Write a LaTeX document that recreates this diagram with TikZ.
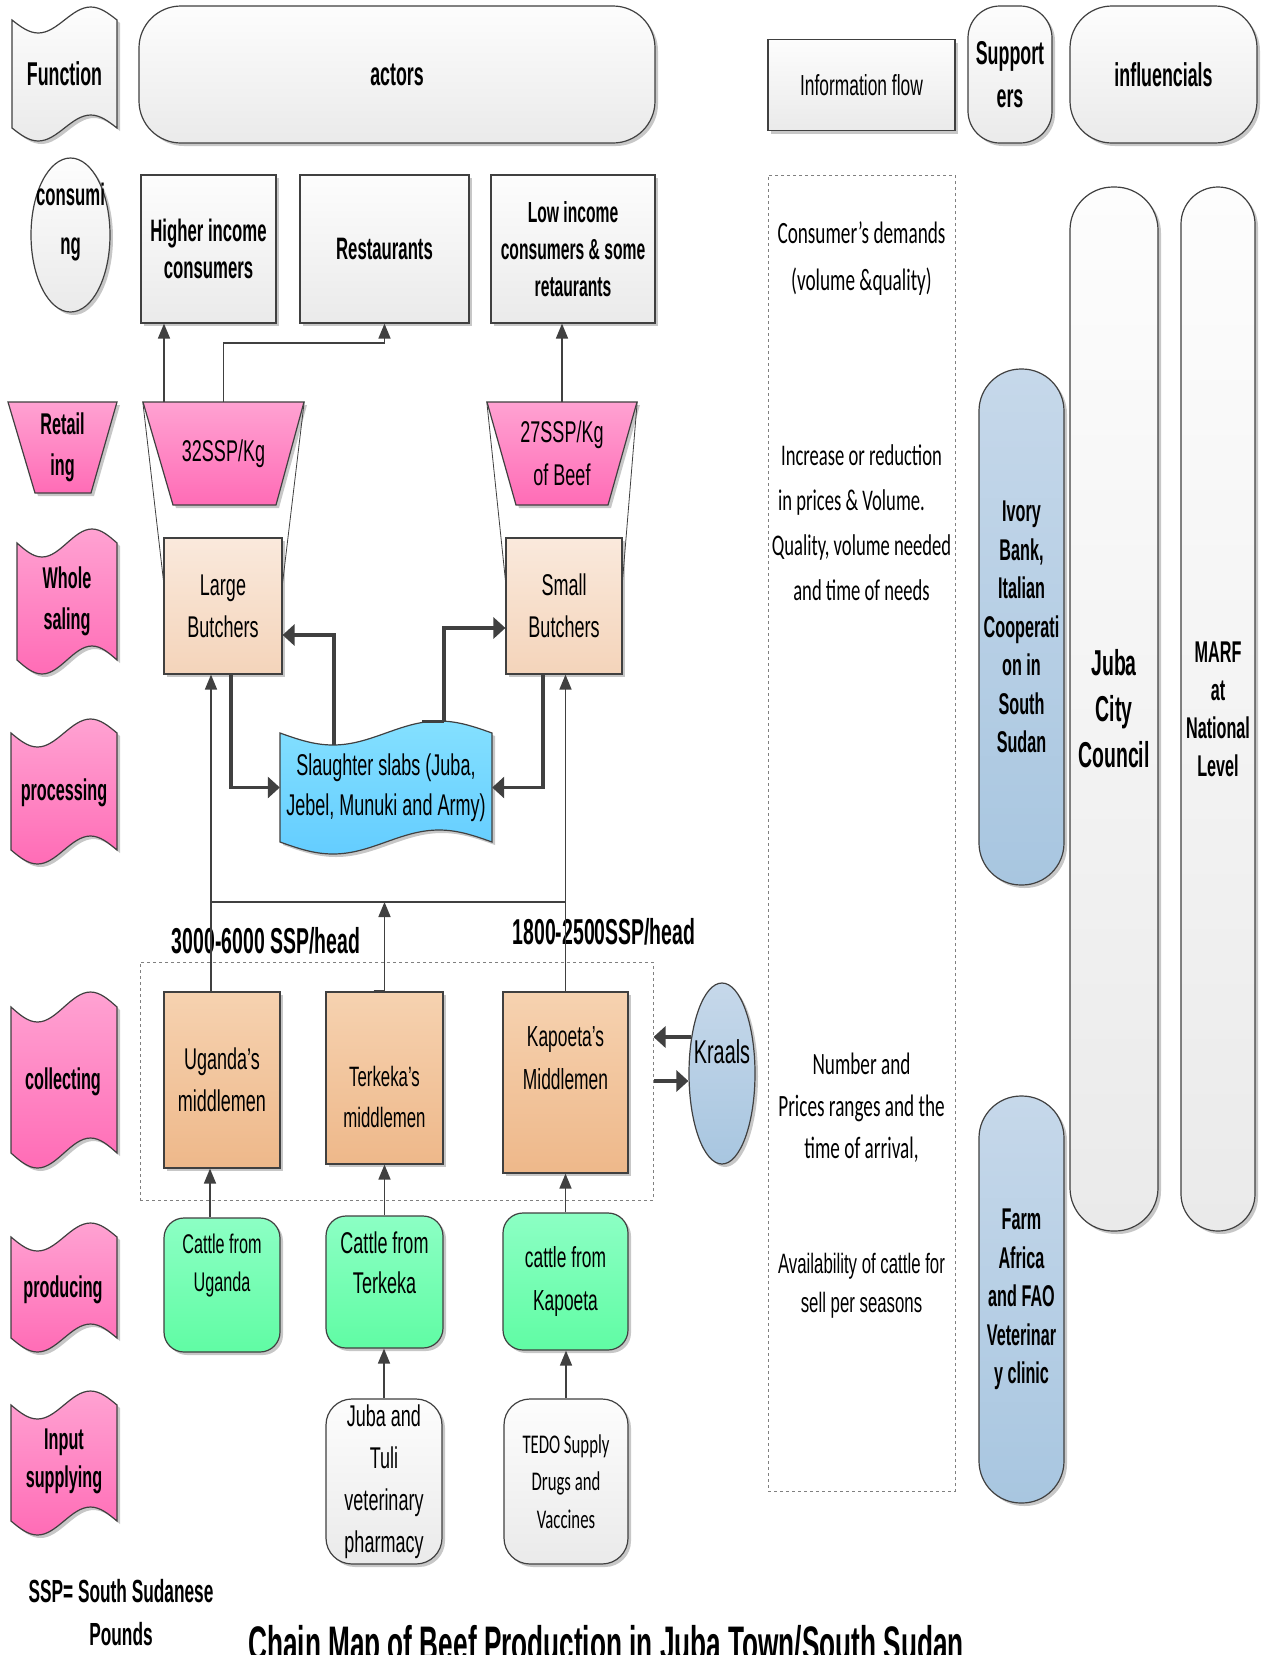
\documentclass[tikz,border=0pt]{standalone}
\usepackage{fontspec}
\setmainfont{Liberation Sans}[FakeStretch=0.6]
\newfontfamily\bfnar{Liberation Sans Bold}[FakeStretch=0.54]
\newfontfamily\calfont{Carlito}[FakeStretch=0.62]
\usepackage{tikz}
\usetikzlibrary{arrows.meta,shapes.geometric,shadows,calc}
\definecolor{pinkTop}{RGB}{255,162,210}
\definecolor{pinkBot}{RGB}{255,108,182}
\definecolor{peachTop}{RGB}{250,233,220}
\definecolor{peachBot}{RGB}{244,212,186}
\definecolor{orangeTop}{RGB}{246,210,176}
\definecolor{orangeBot}{RGB}{238,184,138}
\definecolor{greenTop}{RGB}{140,255,196}
\definecolor{greenBot}{RGB}{96,252,164}
\definecolor{cyanTop}{RGB}{132,224,255}
\definecolor{cyanBot}{RGB}{100,205,255}
\definecolor{steelTop}{RGB}{198,216,234}
\definecolor{steelBot}{RGB}{168,198,224}
\definecolor{greyTop}{RGB}{253,253,253}
\definecolor{greyBot}{RGB}{234,234,234}
\definecolor{lineGrey}{RGB}{64,64,64}
\newcommand{\fsz}[2]{\fontsize{#1}{#2}\selectfont}
% wavy band: x1, y1, x2, y2, amplitude, style
\newcommand{\tapeband}[6]{%
  \draw[#6] (#1,#2) sin ({#1+(#3-#1)/4},{#2+#5}) cos ({(#1+#3)/2},#2)
    sin ({#1+3*(#3-#1)/4},{#2-#5}) cos (#3,#2) -- (#3,#4)
    sin ({#1+3*(#3-#1)/4},{#4-#5}) cos ({(#1+#3)/2},#4)
    sin ({#1+(#3-#1)/4},{#4+#5}) cos (#1,#4) -- cycle;}

\begin{document}
\begin{tikzpicture}[x=1pt,y=-1pt,
    font=\fsz{30}{42},
    every node/.style={align=center, inner sep=0pt},
    sh/.style={drop shadow={shadow xshift=3pt,shadow yshift=-3pt,opacity=0.22,fill=black}},
    outl/.style={draw=lineGrey, line width=1.2pt},
    greybox/.style={outl, sh, top color=greyTop, bottom color=greyBot},
    pinkband/.style={outl, sh, top color=pinkTop, bottom color=pinkBot},
    cyanband/.style={outl, sh, top color=cyanTop, bottom color=cyanBot},
    butcherbox/.style={outl, sh, top color=peachTop, bottom color=peachBot},
    middlebox/.style={outl, sh, top color=orangeTop, bottom color=orangeBot},
    cattlebox/.style={outl, sh, top color=greenTop, bottom color=greenBot, rounded corners=20pt},
    supplybox/.style={greybox, rounded corners=26pt},
    steelbar/.style={outl, sh, top color=steelTop, bottom color=steelBot},
    hdr/.style={font=\bfnar\fsz{33}{43}},
    labelbf/.style={font=\bfnar\fsz{30}{41}},
    flow/.style={draw=lineGrey, line width=1.6pt, -{Triangle[length=15pt,width=12pt]}},
    thickflow/.style={draw=lineGrey, line width=3.5pt, -{Triangle[length=12pt,width=21pt]}},
    link/.style={draw=lineGrey, line width=1.6pt},
    dashbox/.style={draw=gray, dashed, line width=1pt}]
    \path[use as bounding box, fill=white] (0,0) rectangle (1261,1655);

    % Header row
    \tapeband{12}{20}{117}{128}{13}{greybox}
    \node[hdr] (fncTxt) at (64.5,74) {Function};
    \node[greybox, hdr, rounded corners=42pt, minimum width=516, minimum height=137] (act) at (397,74.5) {actors};
    \node[greybox, font=\fsz{29}{40}, minimum width=187, minimum height=91] (infohd) at (861.5,85) {Information flow};
    \node[greybox, hdr, rounded corners=32pt, minimum width=84, minimum height=137] (supp) at (1010,74.5) {Support\\ers};
    \node[greybox, hdr, rounded corners=42pt, minimum width=187, minimum height=137] (infl) at (1163.5,74.5) {influencials};

    % Consuming
    \node[greybox, ellipse, minimum width=79, minimum height=154] (cons) at (70.5,235) {};
    \node[font=\bfnar\fsz{31}{49}] (consTxt) at (70.5,222) {consumi\\ng};
    \node[greybox, font=\bfnar\fsz{31}{37}, minimum width=135, minimum height=148] (hiinc) at (208.5,249) {Higher income\\consumers};
    \node[greybox, font=\bfnar\fsz{31}{37}, minimum width=169, minimum height=148] (rest) at (384.5,249) {Restaurants};
    \node[greybox, font=\bfnar\fsz{29}{37}, minimum width=164, minimum height=148] (lowinc) at (573,249) {Low income\\consumers \& some\\retaurants};

    % Retailing
    \draw[pinkband] (8,402) -- (117,402) -- (91,493) -- (35,493) -- cycle;
    \node[labelbf] (retTxt) at (62.5,447) {Retail\\ing};
    \draw[pinkband] (143,402) -- (304,402) -- (276,505) -- (173,505) -- cycle;
    \node[minimum width=161, minimum height=103] (pA) at (223.5,453.5) {32SSP/Kg};
    \draw[pinkband] (487,402) -- (637,402) -- (608,505) -- (516,505) -- cycle;
    \node[font=\fsz{30}{43}, minimum width=150, minimum height=103] (pB) at (562,453.5) {27SSP/Kg\\of Beef};

    % Wholesaling
    \tapeband{17}{543}{117}{660}{14}{pinkband}
    \node[labelbf] (wsTxt) at (67,601) {Whole\\saling};
    \node[butcherbox, minimum width=118, minimum height=136] (lbutch) at (223,606) {Large\\Butchers};
    \node[butcherbox, minimum width=116, minimum height=136] (sbutch) at (564,606) {Small\\Butchers};
    \draw[lineGrey, line width=0.8pt] (pA.north west) -- ($(lbutch.north west)!0.31!(lbutch.south west)$);
    \draw[lineGrey, line width=0.8pt] (pA.north east) -- ($(lbutch.north east)!0.33!(lbutch.south east)$);
    \draw[lineGrey, line width=0.8pt] (pB.north west) -- ($(sbutch.north west)!0.31!(sbutch.south west)$);
    \draw[lineGrey, line width=0.8pt] (pB.north east) -- ($(sbutch.north east)!0.31!(sbutch.south east)$);

    % Processing
    \tapeband{11}{733}{117}{850}{14}{pinkband}
    \node[labelbf] (prTxt) at (64,793) {processing};
    \tapeband{280}{733}{492}{842}{12}{cyanband}
    \node[font=\fsz{30}{40}, minimum width=212, minimum height=109] (slab) at (386,787.5) {Slaughter slabs (Juba,\\Jebel, Munuki and Army)};

    % Collecting
    \tapeband{11}{1007}{117}{1153}{15}{pinkband}
    \node[labelbf] (coTxt) at (63,1082) {collecting};
    \node[dashbox, minimum width=513, minimum height=238] (collect) at (396.5,1081) {};
    \node[font=\bfnar\fsz{36}{40}] (priceA) at (266,941) {3000-6000 SSP/head};
    \node[font=\bfnar\fsz{36}{40}] (priceB) at (604,932) {1800-2500SSP/head};
    \node[middlebox, minimum width=116, minimum height=176] (mUg) at (222,1080) {Uganda’s\\middlemen};
    \node[middlebox, minimum width=117, minimum height=172] (mTe) at (384.5,1078) {};
    \node[font=\fsz{28}{41}] (mTeTxt) at (384.5,1097) {Terkeka’s\\middlemen};
    \node[middlebox, minimum width=125, minimum height=181] (mKa) at (565.5,1082.5) {};
    \node[font=\fsz{29}{43}] (mKaTxt) at (565.5,1058) {Kapoeta’s\\Middlemen};
    \node[steelbar, ellipse, minimum width=66, minimum height=181] (kraal) at (722,1073.5) {};
    \node[font=\fsz{33}{40}] (kraalTxt) at (722,1052) {Kraals};

    % Producing
    \tapeband{11}{1237}{117}{1338}{14}{pinkband}
    \node[labelbf] (pdTxt) at (63,1290) {producing};
    \node[cattlebox, minimum width=116, minimum height=134] (cUg) at (222,1285) {};
    \node[font=\fsz{27}{38}] (cUgTxt) at (222,1266) {Cattle from\\Uganda};
    \node[cattlebox, minimum width=117, minimum height=132] (cTe) at (384.5,1282) {};
    \node[font=\fsz{30}{40}] (cTeTxt) at (384.5,1263) {Cattle from\\Terkeka};
    \node[cattlebox, font=\fsz{29}{43}, minimum width=125, minimum height=137] (cKa) at (565.5,1281.5) {cattle from\\Kapoeta};

    % Input supplying
    \tapeband{11}{1405}{117}{1521}{14}{pinkband}
    \node[font=\bfnar\fsz{30}{38}] (inTxt) at (64,1461) {Input\\supplying};
    \node[supplybox, minimum width=116, minimum height=165] (vet) at (384,1481.5) {Juba and\\Tuli\\veterinary\\pharmacy};
    \node[supplybox, font=\calfont\fsz{27}{37.5}, minimum width=124, minimum height=165] (tedo) at (566,1481.5) {TEDO Supply\\Drugs and\\Vaccines};

    % Information flow
    \node[dashbox, minimum width=187, minimum height=1316] (info) at (861.5,833) {};
    \node[font=\calfont\fsz{31}{47}] (infoA) at (861.5,258.5) {Consumer’s demands\\(volume \&quality)};
    \node[font=\calfont\fsz{30}{45}] (infoB) at (861.5,522.5) {Increase or reduction\\in prices \& Volume.\hspace*{20pt}\mbox{}\\Quality, volume needed\\and time of needs};
    \node[font=\calfont\fsz{31}{42}] (infoC) at (861.5,1108) {Number and\\Prices ranges and the\\time of arrival,};
    \node[font=\fsz{28}{39}] (infoD) at (861.5,1285.5) {Availability of cattle for\\sell per seasons};

    % Supporters and influencials
    \node[steelbar, font=\bfnar\fsz{30}{38.5}, rounded corners=42pt, minimum width=85, minimum height=516] (ivory) at (1021.5,627) {Ivory\\Bank,\\Italian\\Cooperati\\on in\\South\\Sudan};
    \node[steelbar, font=\bfnar\fsz{30}{38.5}, rounded corners=42pt, minimum width=85, minimum height=407] (farm) at (1021.5,1299.5) {Farm\\Africa\\and FAO\\Veterinar\\y clinic};
    \node[greybox, font=\bfnar\fsz{36}{46}, rounded corners=43pt, minimum width=88, minimum height=1044] (jcc) at (1114,709) {Juba\\City\\Council};
    \node[greybox, font=\bfnar\fsz{30}{38}, rounded corners=37pt, minimum width=74, minimum height=1044] (marf) at (1218,709) {MARF\\at\\National\\Level};

    % Retail to consumers
    \coordinate (pAl) at (164,402);
    \draw[flow] (pAl) -- (pAl |- hiinc.south);
    \draw[flow] (pA.north) -- ++(0,-59) -| (rest.south);
    \draw[flow] (pB.north) -- (pB.north |- lowinc.south);

    % Butchers and slaughter slabs
    \coordinate (slabL) at (334,745);
    \coordinate (slabR) at (444,721);
    \draw[thickflow] ([xshift=8pt]lbutch.south) |- (slab.west);
    \draw[thickflow] (slabL) |- ([yshift=-29pt]lbutch.east);
    \draw[thickflow] (slabR) |- ([yshift=-22pt]sbutch.west);
    \draw[thickflow] ([xshift=-21pt]sbutch.south) |- (slab.east);
    \draw[lineGrey, line width=3pt] (422,721) -- (slabR);

    % Middlemen to butchers
    \coordinate (busL) at (211,902);
    \coordinate (busR) at (566,902);
    \draw[link] (busL) -- (busR);
    \draw[flow] ([xshift=-11pt]mUg.north) -- ([xshift=-11pt]mUg.north |- lbutch.south);
    \draw[flow] (mKa.north) -- (mKa.north |- sbutch.south);
    \draw[flow] (mTe.north) -- (mTe.north |- busL);
    \draw[lineGrey, line width=3pt] ([xshift=-11pt]mTe.north) -- (mTe.north);

    % Producers and inputs
    \draw[flow] ([xshift=-12pt]cUg.north) -- ([xshift=-12pt]cUg.north |- mUg.south);
    \draw[flow] (cTe.north) -- (cTe.north |- mTe.south);
    \draw[flow] (cKa.north) -- (cKa.north |- mKa.south);
    \draw[flow] (vet.north) -- (vet.north |- cTe.south);
    \draw[flow] (tedo.north) -- (tedo.north |- cKa.south);

    % Kraals
    \draw[thickflow] ([xshift=3pt,yshift=36.5pt]kraal.west) -- ([yshift=44pt]collect.east);
    \draw[thickflow] (collect.east) -- (collect.east -| kraal.west);

    % Notes
    \node[font=\bfnar\fsz{32}{43}] (sspNote) at (121,1613) {SSP= South Sudanese\\Pounds};
    \node[font=\bfnar\fsz{48.5}{55}, anchor=base] (title) at (606,1660) {Chain Map of Beef Production in Juba Town/South Sudan};
\end{tikzpicture}
\end{document}
